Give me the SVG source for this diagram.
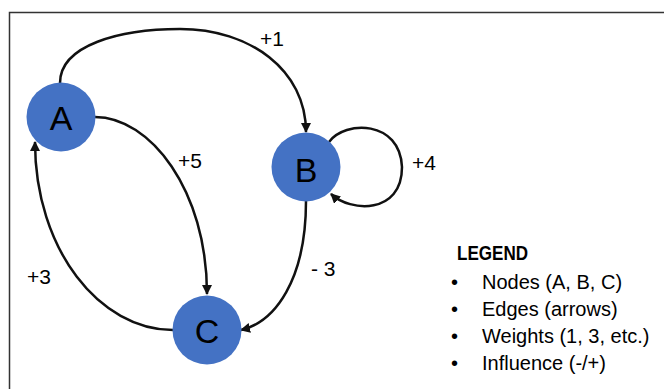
<svg xmlns="http://www.w3.org/2000/svg" width="664" height="389" viewBox="0 0 664 389">
<style>
.frame{fill:none;stroke:#333;stroke-width:1.5}
.node{fill:#4472C4}
.nl{font-family:"Liberation Sans",Arial,sans-serif;font-size:34px;fill:#000;text-anchor:middle}
.edge{fill:none;stroke:#111;stroke-width:2.5;marker-end:url(#ah)}
.lbl{font-family:"Liberation Sans",Arial,sans-serif;font-size:21px;fill:#000}
.leg{font-family:"Liberation Sans",Arial,sans-serif;font-size:20px;fill:#000}
.legh{font-family:"Liberation Sans",Arial,sans-serif;font-size:19.5px;font-weight:bold;fill:#000}
</style>
<defs>
<marker id="ah" viewBox="0 0 10 10" refX="9" refY="5" markerWidth="4" markerHeight="4" orient="auto" markerUnits="strokeWidth">
<path d="M0,0 L10,5 L0,10 z" fill="#111"/>
</marker>
</defs>
<rect width="664" height="389" fill="#fff"/>
<path class="frame" d="M9.5,400 V12.5 H680"/>
<g id="connectors">
<path id="e-ab" class="edge" d="M60,83 C60,45 120,29 180,29 C250,29 306,70 306,132"/>
<path id="e-ac" class="edge" d="M95,117 C150,117 207,190 207,294"/>
<path id="e-ca" class="edge" d="M173,330 C100,330 35,250 35,142"/>
<path id="e-bc" class="edge" d="M306,201 C306,280 275,322 241,330"/>
<path id="e-bb" class="edge" d="M329,142 C345,120 400,120 402,167 C402,215 350,212 331,194"/>
<text class="lbl" x="260" y="46">+1</text>
<text class="lbl" x="178" y="168">+5</text>
<text class="lbl" x="412" y="170">+4</text>
<text class="lbl" x="311" y="276">- 3</text>
<text class="lbl" x="27" y="284">+3</text>
</g>
<g id="node-A">
<circle class="node" cx="61" cy="117" r="34.5"/>
<text class="nl" x="61" y="130">A</text>
</g>
<g id="node-B">
<circle class="node" cx="306" cy="167" r="34.5"/>
<text class="nl" x="306" y="182">B</text>
</g>
<g id="node-C">
<circle class="node" cx="207" cy="330" r="34.5"/>
<text class="nl" x="207" y="343">C</text>
</g>
<g id="legend">
<text class="legh" x="457" y="260" textLength="71" lengthAdjust="spacingAndGlyphs">LEGEND</text>
<text class="leg" x="451" y="289">•</text>
<text class="leg" x="482" y="289">Nodes (A, B, C)</text>
<text class="leg" x="451" y="316">•</text>
<text class="leg" x="482" y="316">Edges (arrows)</text>
<text class="leg" x="451" y="343">•</text>
<text class="leg" x="482" y="343">Weights (1, 3, etc.)</text>
<text class="leg" x="451" y="370">•</text>
<text class="leg" x="482" y="370">Influence (-/+)</text>
</g>
</svg>
